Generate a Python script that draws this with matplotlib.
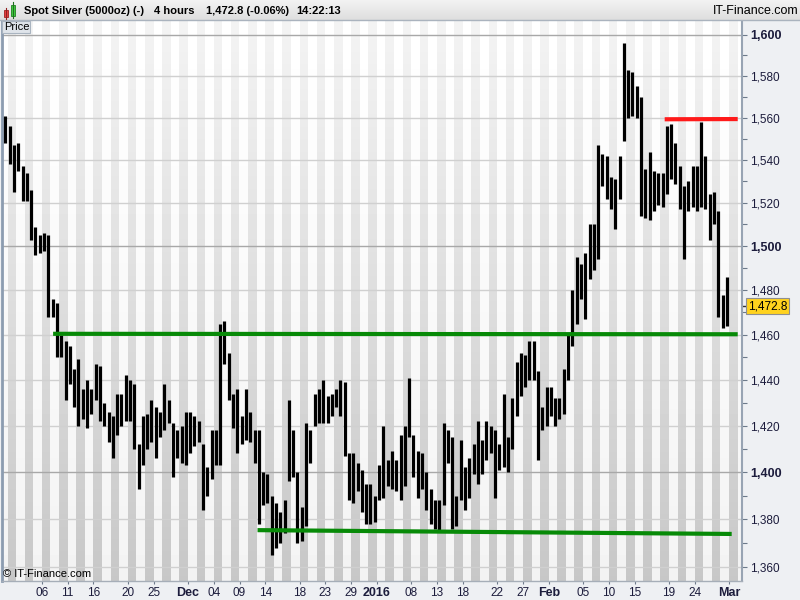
import numpy as np
import pandas as pd
import matplotlib
matplotlib.use('Agg')
import matplotlib.pyplot as plt
from matplotlib.patches import Rectangle
from matplotlib.lines import Line2D
from matplotlib.ticker import NullFormatter

plt.rcParams['font.family'] = ['Liberation Sans', 'DejaVu Sans']

# half-day bars (4h chart, read in 12h chunks), from Oct 30 2015 pm to Feb 29 2016
highs = [1561,
         1556, 1547, 1548, 1537, 1534, 1526, 1509, 1505, 1506, 1505,
         1476, 1474, 1460, 1457, 1455, 1445, 1449, 1436, 1440, 1436,
         1447, 1446, 1430, 1426, 1424, 1434, 1434, 1442, 1440, 1438,
         1412, 1424, 1425, 1431, 1428, 1426, 1438, 1431, 1421, 1418,
         1420, 1426, 1426, 1424, 1422, 1412, 1402, 1418, 1418, 1465,
         1466, 1452, 1434, 1436, 1424, 1436, 1426, 1418, 1418, 1400,
         1399, 1390, 1387, 1383, 1388, 1431, 1418, 1400, 1385, 1421,
         1418, 1434, 1436, 1440, 1433, 1434, 1436, 1440, 1439, 1408,
         1408, 1404, 1401, 1395, 1395, 1390, 1403, 1420, 1405, 1409,
         1405, 1416, 1420, 1441, 1416, 1409, 1408, 1400, 1393, 1388,
         1388, 1421, 1418, 1415, 1390, 1414, 1402, 1406, 1412, 1422,
         1414, 1422, 1420, 1418, 1412, 1434, 1415, 1432, 1448, 1452,
         1451, 1457, 1457, 1444, 1428, 1437, 1437, 1432, 1432, 1445,
         1460, 1480, 1495, 1492, 1497, 1510, 1510, 1547, 1543, 1542,
         1532, 1531, 1542, 1596, 1583, 1582, 1575, 1570, 1536, 1544,
         1535, 1534, 1534, 1556, 1557, 1548, 1537, 1528, 1530, 1537,
         1537, 1558, 1542, 1524, 1525, 1516, 1478, 1486]
lows = [1548,
        1538, 1525, 1535, 1521, 1521, 1503, 1496, 1497, 1498, 1468,
        1468, 1450, 1450, 1431, 1438, 1428, 1420, 1423, 1419, 1425,
        1431, 1422, 1420, 1413, 1406, 1416, 1420, 1422, 1422, 1410,
        1393, 1403, 1410, 1413, 1406, 1415, 1418, 1421, 1398, 1406,
        1404, 1403, 1408, 1411, 1413, 1384, 1390, 1397, 1403, 1403,
        1447, 1431, 1419, 1408, 1412, 1414, 1413, 1404, 1378, 1386,
        1387, 1365, 1368, 1370, 1374, 1396, 1398, 1370, 1371, 1377,
        1404, 1420, 1421, 1421, 1421, 1424, 1428, 1424, 1407, 1388,
        1387, 1392, 1383, 1378, 1378, 1379, 1388, 1389, 1394, 1393,
        1392, 1388, 1394, 1415, 1398, 1389, 1393, 1384, 1378, 1376,
        1375, 1386, 1404, 1376, 1377, 1388, 1384, 1389, 1399, 1395,
        1399, 1405, 1408, 1389, 1401, 1402, 1400, 1410, 1424, 1433,
        1437, 1440, 1440, 1405, 1418, 1420, 1424, 1420, 1423, 1425,
        1440, 1455, 1465, 1476, 1467, 1485, 1489, 1494, 1528, 1522,
        1517, 1508, 1522, 1549, 1560, 1561, 1560, 1514, 1513, 1512,
        1516, 1519, 1518, 1524, 1531, 1529, 1517, 1494, 1516, 1518,
        1516, 1518, 1517, 1503, 1510, 1468, 1463, 1464]
last_price = 1472.8

price_ticks = [1360, 1380, 1400, 1420, 1440, 1460, 1480, 1500, 1520, 1540, 1560, 1580, 1600]
minor_ticks = [1370, 1390, 1410, 1430, 1450, 1470, 1490, 1510, 1530, 1550, 1570, 1590]

tick_dates = ['2015-11-06', '2015-11-11', '2015-11-16', '2015-11-20', '2015-11-25',
              '2015-12-01', '2015-12-04', '2015-12-09', '2015-12-14', '2015-12-18',
              '2015-12-23', '2015-12-29', '2016-01-04', '2016-01-08', '2016-01-13',
              '2016-01-18', '2016-01-22', '2016-01-27', '2016-02-01', '2016-02-05',
              '2016-02-10', '2016-02-15', '2016-02-19', '2016-02-24', '2016-03-01']
tick_labels = ['06', '11', '16', '20', '25', 'Dec', '04', '09', '14', '18', '23', '29',
               '2016', '08', '13', '18', '22', '27', 'Feb', '05', '10', '15', '19', '24', 'Mar']
bold_labels = ['Dec', '2016', 'Feb', 'Mar']

# support / resistance lines: (day, price) end points
support_top = [(5.3, 1460.4), (85.0, 1460.2)]
support_low = [(29.1, 1375.4), (84.3, 1373.8)]
resistance = [(76.5, 1559.3), (85.0, 1559.4)]

# trading days (no Christmas / New Year), Nov 2 = 0
days = pd.bdate_range('2015-10-30', '2016-03-01')
days = days[~days.isin(pd.to_datetime(['2015-12-25', '2016-01-01']))]
day_pos = np.arange(len(days)) - 1
day_of = dict(zip(days.strftime('%Y-%m-%d'), day_pos))

bar_x = (np.repeat(day_pos[:-1], 2) + np.tile([0.25, 0.75], len(day_pos) - 1))[1:]

W, H = 800, 600


def box(l, t, r, b):
    return [l / W, 1 - b / H, (r - l) / W, (b - t) / H]


fig = plt.figure(figsize=(8, 6), dpi=100, facecolor='#eef0f3')
xlim = (-0.65, 85.5)

# striped background, one stripe per trading day, vertical gradient
bg = fig.add_axes(box(2, 20, 742, 581))
t = np.linspace(0, 1, 600)[:, None]
stripe_days = np.arange(-1, 87)
is_gray = (stripe_days % 2 == 0)[None, :]
img = np.where(is_gray, 0.955 - 0.175 * t, 1.0 - 0.045 * t)
bg.imshow(img, cmap='gray', vmin=0, vmax=1, aspect='auto', interpolation='nearest',
          extent=(stripe_days[0], stripe_days[-1] + 1, 0, 1))
bg.set_xlim(xlim)
bg.set_ylim(0, 1)
bg.axis('off')

ax = fig.add_axes(box(2, 20, 742, 581), facecolor='none')
ax.set_yscale('log')
ax.set_xlim(xlim)
ax.set_ylim(1354.2, 1607.3)

for v in price_ticks:
    ax.axhline(v, color='#a8a8a8' if v % 100 == 0 else '#d0d0d0', lw=1, zorder=1)

ax.vlines(bar_x, lows, highs, color='black', lw=2.3, zorder=3)

for seg, col in [(support_top, '#078a07'), (support_low, '#078a07'), (resistance, '#ff1a1a')]:
    ax.plot([p[0] for p in seg], [p[1] for p in seg], color=col, lw=3, zorder=4,
            solid_capstyle='butt')

ax.yaxis.tick_right()
ax.set_yticks(price_ticks)
ax.set_yticklabels([f'{v:,}' for v in price_ticks])
ax.set_yticks(minor_ticks, minor=True)
ax.yaxis.set_minor_formatter(NullFormatter())
ax.tick_params(axis='y', which='both', length=3.6, width=0.8, color='#6d7a8a', pad=2,
               labelsize=8.5, labelcolor='#1c1c3c')
for lbl, v in zip(ax.get_yticklabels(), price_ticks):
    if v % 100 == 0:
        lbl.set_fontweight('bold')
        lbl.set_fontsize(9)

ax.set_xticks([day_of[d] for d in tick_dates])
ax.set_xticklabels(tick_labels)
ax.tick_params(axis='x', length=2.5, width=0.8, color='#6d7a8a', pad=2,
               labelsize=8.5, labelcolor='#1c1c3c')
for lbl in ax.get_xticklabels():
    if lbl.get_text() in bold_labels:
        lbl.set_fontweight('bold')
        lbl.set_fontsize(9)

ax.spines['top'].set_visible(False)
ax.spines['left'].set_color('#8c9cb0')
ax.spines['left'].set_linewidth(2)
ax.spines['right'].set_color('#98a4b3')
ax.spines['right'].set_linewidth(1.5)
ax.spines['bottom'].set_color('#a6aeb8')
ax.spines['bottom'].set_linewidth(1)

# last price marker
ax.text(1.008, last_price, f'{last_price:,.1f}', transform=ax.get_yaxis_transform(),
        ha='left', va='center', fontsize=8.5, color='black', clip_on=False, zorder=6,
        bbox=dict(boxstyle='square,pad=0.18', fc='#ffd21e', ec='#8f8f8f', lw=0.8))
ax.plot([1.0, 1.006], [last_price] * 2, transform=ax.get_yaxis_transform(),
        color='#333333', lw=1, clip_on=False)

# header band
hdr = fig.add_axes(box(0, 0, 800, 20))
hdr.imshow(np.linspace(0.95, 0.87, 50)[:, None] * np.ones((1, 10)), cmap='gray',
           vmin=0, vmax=1, aspect='auto', extent=(0, 1, 0, 1))
hdr.axis('off')
fig.add_artist(Line2D([0, 1], [1 - 20 / H] * 2, transform=fig.transFigure,
                      color='#aab3be', lw=1))

# little candle icon
fig.add_artist(Line2D([6 / W, 6 / W], [1 - 8 / H, 1 - 19 / H], transform=fig.transFigure,
                      color='#902020', lw=0.8))
fig.add_artist(Rectangle((4 / W, 1 - 17 / H), 4 / W, 7 / H, transform=fig.transFigure,
                         fc='#e84040', ec='#a02020', lw=0.6))
fig.add_artist(Line2D([13 / W, 13 / W], [1 - 2 / H, 1 - 18 / H], transform=fig.transFigure,
                      color='#207020', lw=0.8))
fig.add_artist(Rectangle((11 / W, 1 - 16 / H), 4 / W, 11 / H, transform=fig.transFigure,
                         fc='#40d040', ec='#208020', lw=0.6))

title_parts = [('Spot Silver (5000oz) (-)', 24), ('4 hours', 154),
               ('1,472.8 (-0.06%)', 206), ('14:22:13', 296)]
for txt, x in title_parts:
    fig.text(x / W, 1 - 11 / H, txt, fontsize=8.0, fontweight='bold', va='center', ha='left')
fig.text(798 / W, 1 - 11 / H, 'IT-Finance.com', fontsize=9, va='center', ha='right')

# "Price" tab
fig.add_artist(Rectangle((2 / W, 1 - 33 / H), 28 / W, 12 / H, transform=fig.transFigure,
                         fc='#dfe4ea', ec='#a9b4c0', lw=0.8))
fig.text(4 / W, 1 - 27 / H, 'Price', fontsize=8, va='center', ha='left')

fig.text(3 / W, 1 - 574 / H, '\u00a9 IT-Finance.com', fontsize=8, va='center', ha='left')

fig.savefig('out.png', dpi=100, facecolor=fig.get_facecolor())
